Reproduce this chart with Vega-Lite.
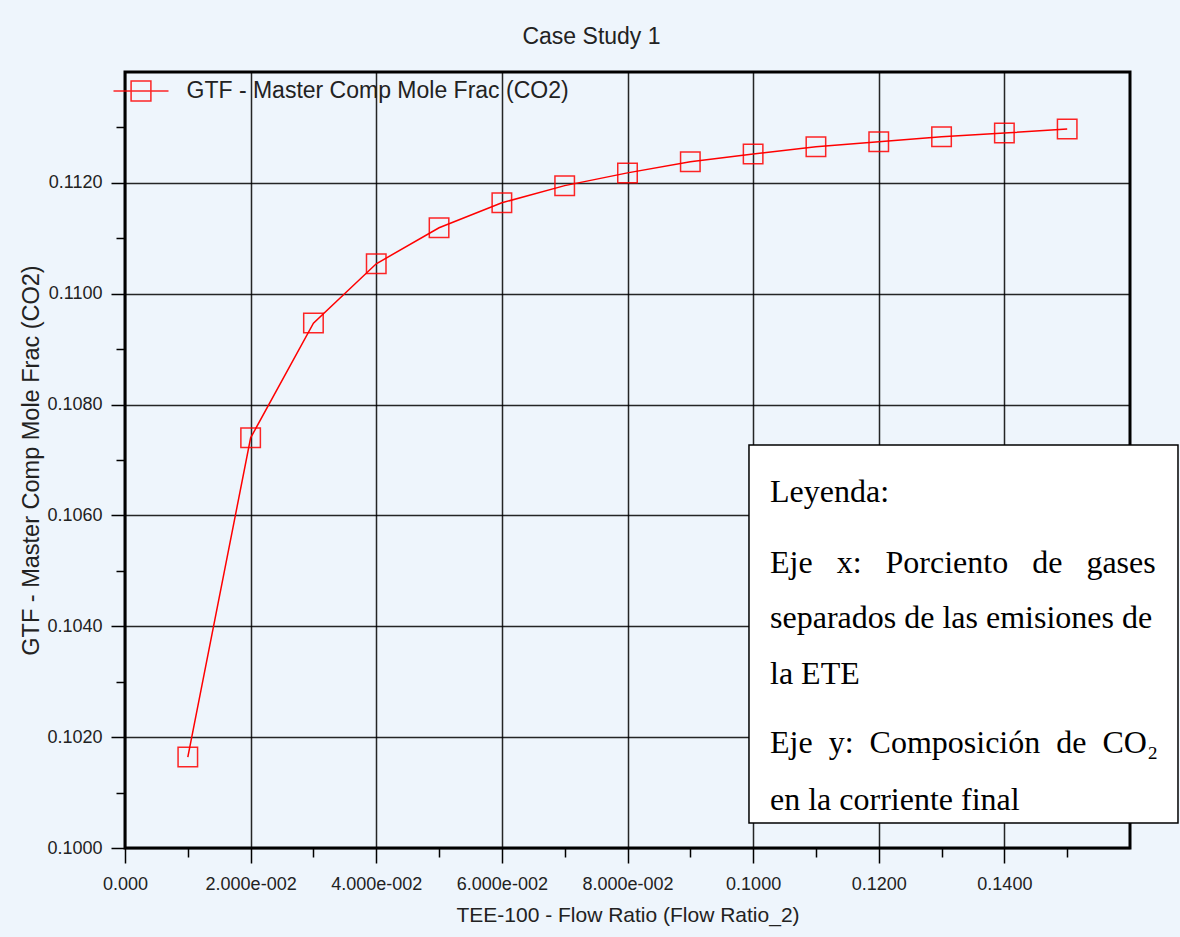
{
  "$schema": "https://vega.github.io/schema/vega-lite/v6.json",
  "width": 1005,
  "height": 776,
  "autosize": {"type": "none"},
  "padding": {"left": 125, "top": 72, "right": 50, "bottom": 89},
  "background": "#EEF5FC",
  "config": {
    "view": {"stroke": "#000", "strokeWidth": 3},
    "axis": {
      "domain": false,
      "tickColor": "#000",
      "tickWidth": 1.5,
      "gridColor": "#000",
      "gridWidth": 1.5,
      "gridOpacity": 0.85,
      "labelFont": "Liberation Sans Narrow, Arial Narrow, Liberation Sans",
      "labelFontSize": 18,
      "labelColor": "#222",
      "titleFont": "Liberation Sans",
      "titleFontWeight": "normal",
      "titleColor": "#222"
    }
  },
  "title": {
    "text": "Case Study 1",
    "font": "Liberation Sans",
    "fontSize": 23,
    "fontWeight": "normal",
    "color": "#222",
    "anchor": "middle",
    "dx": -36,
    "offset": 14
  },
  "datasets": {
    "main": [
      {"ratio": 0.01, "frac": 0.10164, "series": "GTF - Master Comp Mole Frac (CO2)"},
      {"ratio": 0.02, "frac": 0.10740, "series": "GTF - Master Comp Mole Frac (CO2)"},
      {"ratio": 0.03, "frac": 0.10947, "series": "GTF - Master Comp Mole Frac (CO2)"},
      {"ratio": 0.04, "frac": 0.11054, "series": "GTF - Master Comp Mole Frac (CO2)"},
      {"ratio": 0.05, "frac": 0.11119, "series": "GTF - Master Comp Mole Frac (CO2)"},
      {"ratio": 0.06, "frac": 0.11164, "series": "GTF - Master Comp Mole Frac (CO2)"},
      {"ratio": 0.07, "frac": 0.11195, "series": "GTF - Master Comp Mole Frac (CO2)"},
      {"ratio": 0.08, "frac": 0.11218, "series": "GTF - Master Comp Mole Frac (CO2)"},
      {"ratio": 0.09, "frac": 0.11238, "series": "GTF - Master Comp Mole Frac (CO2)"},
      {"ratio": 0.10, "frac": 0.11252, "series": "GTF - Master Comp Mole Frac (CO2)"},
      {"ratio": 0.11, "frac": 0.11265, "series": "GTF - Master Comp Mole Frac (CO2)"},
      {"ratio": 0.12, "frac": 0.11274, "series": "GTF - Master Comp Mole Frac (CO2)"},
      {"ratio": 0.13, "frac": 0.11283, "series": "GTF - Master Comp Mole Frac (CO2)"},
      {"ratio": 0.14, "frac": 0.11290, "series": "GTF - Master Comp Mole Frac (CO2)"},
      {"ratio": 0.15, "frac": 0.11297, "series": "GTF - Master Comp Mole Frac (CO2)"}
    ]
  },
  "layer": [
    {
      "data": {"name": "main"},
      "mark": {"type": "line", "color": "#ff0000", "strokeWidth": 1.5},
      "encoding": {
        "x": {
          "field": "ratio", "type": "quantitative",
          "scale": {"domain": [0, 0.16], "nice": false, "zero": false},
          "axis": {
            "orient": "bottom",
            "values": [0, 0.02, 0.04, 0.06, 0.08, 0.1, 0.12, 0.14],
            "labelExpr": "datum.value == 0 ? '0.000' : (datum.value < 0.09 ? format(datum.value * 100, '.3f') + 'e-002' : format(datum.value, '.4f'))",
            "tickSize": 15,
            "labelPadding": 12,
            "labelFlush": false,
            "labelOverlap": false,
            "grid": true,
            "title": "TEE-100 - Flow Ratio (Flow Ratio_2)",
            "titleFontSize": 21,
            "titlePadding": 11
          }
        },
        "y": {
          "field": "frac", "type": "quantitative",
          "scale": {"domain": [0.1, 0.114], "nice": false, "zero": false},
          "axis": {
            "orient": "left",
            "values": [0.1, 0.102, 0.104, 0.106, 0.108, 0.11, 0.112],
            "format": ".4f",
            "tickSize": 14,
            "labelPadding": 9,
            "labelFlush": false,
            "labelOverlap": false,
            "grid": true,
            "title": "GTF - Master Comp Mole Frac (CO2)",
            "titleFontSize": 23.5,
            "titlePadding": 3
          }
        },
        "color": {
          "field": "series", "type": "nominal",
          "scale": {"range": ["#ff0000"]},
          "legend": {
            "orient": "none",
            "legendX": -12.5,
            "legendY": -9.5,
            "title": null,
            "padding": 0,
            "symbolType": "M-1,0H1M-0.36,-0.36H0.36V0.36H-0.36Z",
            "symbolSize": 3025,
            "symbolStrokeWidth": 1.5,
            "symbolStrokeColor": "#ff0000",
            "symbolFillColor": "transparent",
            "labelFont": "Liberation Sans",
            "labelFontSize": 23,
            "labelColor": "#222",
            "labelOffset": 17,
            "labelLimit": 600
          }
        }
      }
    },
    {
      "data": {"name": "main"},
      "mark": {"type": "point", "shape": "square", "filled": false, "size": 380, "strokeWidth": 1.5, "opacity": 0.85},
      "encoding": {
        "x": {
          "field": "ratio", "type": "quantitative",
          "axis": {
            "orient": "bottom",
            "values": [0.01, 0.03, 0.05, 0.07, 0.09, 0.11, 0.13, 0.15],
            "labels": false,
            "grid": false,
            "tickSize": 9,
            "title": null
          }
        },
        "y": {
          "field": "frac", "type": "quantitative",
          "axis": {
            "orient": "left",
            "values": [0.101, 0.103, 0.105, 0.107, 0.109, 0.111, 0.113],
            "labels": false,
            "grid": false,
            "tickSize": 9,
            "title": null
          }
        },
        "color": {"field": "series", "type": "nominal"}
      }
    },
    {
      "data": {"values": [{}]},
      "mark": {"type": "rect", "fill": "#ffffff", "stroke": "#000", "strokeWidth": 1.5, "clip": false},
      "encoding": {
        "x": {"datum": 0.09934, "type": "quantitative", "axis": null},
        "x2": {"datum": 0.16764},
        "y": {"datum": 0.107272, "type": "quantitative", "axis": null},
        "y2": {"datum": 0.100451}
      }
    },
    {
      "data": {"values": [{}]},
      "mark": {"type": "text", "text": "Leyenda:", "font": "Liberation Serif", "fontSize": 32, "align": "left", "baseline": "alphabetic", "color": "#000", "clip": false},
      "encoding": {
        "x": {"datum": 0.10269, "type": "quantitative", "axis": null},
        "y": {"datum": 0.106243, "type": "quantitative", "axis": null}
      }
    },
    {
      "data": {"values": [{}]},
      "mark": {"type": "text", "text": ["Eje\u00a0\u00a0\u00a0x:\u00a0\u00a0\u00a0Porciento\u00a0\u00a0\u00a0de\u00a0\u00a0\u00a0gases", "separados de las emisiones de", "la ETE"], "lineHeight": 55.5, "font": "Liberation Serif", "fontSize": 32, "align": "left", "baseline": "alphabetic", "color": "#000", "clip": false},
      "encoding": {
        "x": {"datum": 0.10269, "type": "quantitative", "axis": null},
        "y": {"datum": 0.104962, "type": "quantitative", "axis": null}
      }
    },
    {
      "data": {"values": [{}]},
      "mark": {"type": "text", "text": ["Eje\u00a0\u00a0y:\u00a0\u00a0Composición\u00a0\u00a0de\u00a0\u00a0CO₂", "en la corriente final"], "lineHeight": 57, "font": "Liberation Serif", "fontSize": 32, "align": "left", "baseline": "alphabetic", "color": "#000", "clip": false},
      "encoding": {
        "x": {"datum": 0.10269, "type": "quantitative", "axis": null},
        "y": {"datum": 0.101714, "type": "quantitative", "axis": null}
      }
    }
  ],
  "resolve": {"axis": {"x": "independent", "y": "independent"}}
}
